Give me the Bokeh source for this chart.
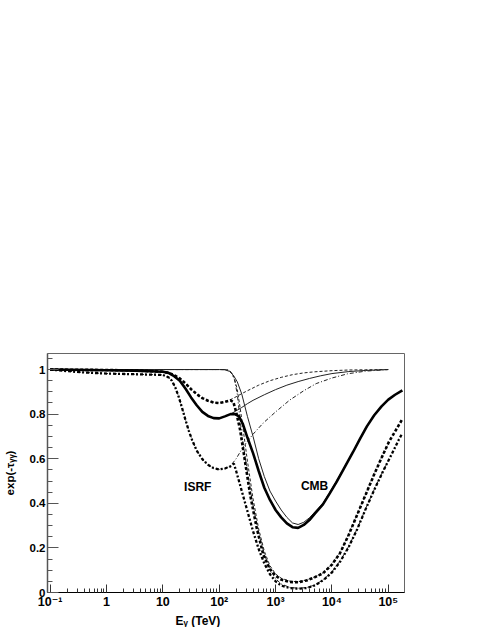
from bokeh.plotting import figure
from bokeh.models import Range1d, FixedTicker, Label, Title
from bokeh.embed import file_html
from bokeh.resources import INLINE

# ---------------- data (log10 of E in TeV, and exp(-tau)) ----------------
solid_total_lx = [-1.0, 0.0, 0.5, 1.0, 1.1, 1.2, 1.3, 1.4, 1.5, 1.6, 1.7, 1.8, 1.9, 2.0, 2.1, 2.2, 2.28,
                  2.35, 2.42, 2.5, 2.6, 2.7, 2.8, 2.9, 3.0, 3.1, 3.2, 3.3, 3.4, 3.5, 3.6, 3.7, 3.84, 3.95,
                  4.08, 4.2, 4.37, 4.5, 4.62, 4.75, 4.88, 5.0, 5.12, 5.25]
solid_total_y = [1.0, 0.997, 0.995, 0.99, 0.985, 0.97, 0.95, 0.915, 0.875, 0.84, 0.81, 0.792, 0.782, 0.781,
                 0.79, 0.80, 0.80, 0.79, 0.755, 0.695, 0.625, 0.545, 0.47, 0.415, 0.37, 0.337, 0.31, 0.293,
                 0.29, 0.303, 0.325, 0.355, 0.395, 0.44, 0.495, 0.55, 0.628, 0.69, 0.745, 0.795, 0.835,
                 0.865, 0.887, 0.907]

solid_isrf_lx = [-1.0, 0.0, 0.5, 1.0, 1.1, 1.2, 1.3, 1.4, 1.5, 1.6, 1.7, 1.8, 1.9, 2.0, 2.1, 2.2, 2.3,
                 2.4, 2.5, 2.6, 2.8, 3.0, 3.2, 3.4, 3.6, 3.8, 4.0, 4.3, 4.6, 5.0]
solid_isrf_y = [1.0, 0.997, 0.995, 0.99, 0.985, 0.97, 0.95, 0.915, 0.875, 0.84, 0.81, 0.792, 0.782, 0.781,
                0.79, 0.80, 0.815, 0.83, 0.847, 0.862, 0.887, 0.91, 0.93, 0.946, 0.96, 0.972, 0.982, 0.991,
                0.996, 1.0]

solid_cmb_lx = [-1.0, 2.0, 2.1, 2.18, 2.25, 2.32, 2.4, 2.5, 2.6, 2.7, 2.8, 2.9, 3.0, 3.1, 3.2, 3.3, 3.4,
                3.5, 3.6, 3.7, 3.84, 3.95, 4.08, 4.2, 4.37, 4.5, 4.62, 4.75, 4.88, 5.0]
solid_cmb_y = [1.0, 1.0, 0.999, 0.992, 0.975, 0.945, 0.89, 0.79, 0.70, 0.60, 0.52, 0.455, 0.41, 0.37,
               0.337, 0.312, 0.305, 0.315, 0.335, 0.362, 0.40, 0.445, 0.50, 0.553, 0.63, 0.692, 0.747,
               0.797, 0.837, 0.867]

dashed_isrf_lx = [-1.0, 0.0, 0.5, 1.0, 1.1, 1.2, 1.3, 1.4, 1.5, 1.6, 1.7, 1.8, 1.9, 2.0, 2.1, 2.2, 2.3,
                  2.4, 2.5, 2.7, 2.9, 3.1, 3.3, 3.5, 3.7, 4.0, 4.3, 4.6, 5.0]
dashed_isrf_y = [1.0, 0.998, 0.996, 0.99, 0.985, 0.975, 0.96, 0.938, 0.912, 0.89, 0.872, 0.86, 0.852,
                 0.85, 0.855, 0.865, 0.878, 0.892, 0.905, 0.93, 0.95, 0.965, 0.977, 0.985, 0.99, 0.995,
                 0.998, 0.999, 1.0]

dashed_cmb_lx = [-1.0, 2.1, 2.17, 2.22, 2.27, 2.32, 2.37, 2.42, 2.5, 2.6, 2.7, 2.8, 2.9, 3.0, 3.1, 3.25,
                 3.4, 3.55, 3.7, 3.84, 4.0, 4.14, 4.3, 4.45, 4.6, 4.75, 4.9, 5.0]
dashed_cmb_y = [1.0, 1.0, 0.997, 0.985, 0.96, 0.91, 0.83, 0.74, 0.59, 0.42, 0.285, 0.185, 0.12, 0.083,
                0.064, 0.051, 0.048, 0.056, 0.071, 0.088, 0.127, 0.177, 0.262, 0.352, 0.442, 0.532, 0.617,
                0.665]

dashed_total_lx = [-1.0, 0.0, 0.5, 1.0, 1.1, 1.2, 1.3, 1.4, 1.5, 1.6, 1.7, 1.8, 1.9, 2.0, 2.1, 2.2, 2.25,
                   2.3, 2.37, 2.46, 2.55, 2.665, 2.78, 2.9, 3.0, 3.1, 3.25, 3.4, 3.55, 3.7, 3.84, 4.0, 4.14,
                   4.3, 4.45, 4.6, 4.75, 4.9, 5.01, 5.15, 5.25]
dashed_total_y = [1.0, 0.998, 0.996, 0.99, 0.985, 0.975, 0.96, 0.938, 0.912, 0.89, 0.872, 0.86, 0.852,
                  0.85, 0.855, 0.862, 0.855, 0.81, 0.73, 0.584, 0.436, 0.289, 0.171, 0.105, 0.075, 0.058,
                  0.047, 0.046, 0.054, 0.069, 0.086, 0.125, 0.175, 0.26, 0.35, 0.44, 0.53, 0.615, 0.675,
                  0.735, 0.778]

dashdot_isrf_lx = [-1.0, -0.7, -0.4, 0.0, 0.5, 1.0, 1.1, 1.16, 1.22, 1.28, 1.34, 1.4, 1.46, 1.52, 1.6,
                   1.7, 1.8, 1.9, 2.0, 2.1, 2.2, 2.3, 2.43, 2.6, 2.78, 3.0, 3.25, 3.5, 3.72, 4.0, 4.28,
                   4.6, 5.0]
dashdot_isrf_y = [1.0, 0.993, 0.987, 0.982, 0.979, 0.976, 0.965, 0.95, 0.92, 0.878, 0.828, 0.775, 0.725,
                  0.683, 0.637, 0.598, 0.573, 0.558, 0.552, 0.556, 0.568, 0.60, 0.655, 0.71, 0.76, 0.81,
                  0.863, 0.905, 0.937, 0.962, 0.981, 0.993, 1.0]

dashdot_cmb_lx = [-1.0, 2.1, 2.17, 2.22, 2.27, 2.32, 2.4, 2.5, 2.6, 2.7, 2.8, 2.9, 3.0, 3.1, 3.25, 3.4,
                  3.55, 3.7, 3.85, 4.0, 4.15, 4.3, 4.45, 4.6, 4.75, 4.9, 5.0]
dashdot_cmb_y = [1.0, 1.0, 0.997, 0.985, 0.955, 0.89, 0.71, 0.54, 0.39, 0.265, 0.172, 0.103, 0.062,
                 0.038, 0.023, 0.019, 0.022, 0.034, 0.058, 0.093, 0.143, 0.208, 0.287, 0.377, 0.462,
                 0.542, 0.59]

dashdot_total_lx = [-1.0, -0.7, -0.4, 0.0, 0.5, 1.0, 1.1, 1.16, 1.22, 1.28, 1.34, 1.4, 1.46, 1.52, 1.6,
                    1.7, 1.8, 1.9, 2.0, 2.1, 2.2, 2.26, 2.3, 2.4, 2.5, 2.6, 2.7, 2.8, 2.9, 3.0, 3.1, 3.25,
                    3.4, 3.55, 3.7, 3.85, 4.0, 4.15, 4.3, 4.45, 4.6, 4.75, 4.9, 5.05, 5.19, 5.25]
dashdot_total_y = [1.0, 0.993, 0.987, 0.982, 0.979, 0.976, 0.965, 0.95, 0.92, 0.878, 0.828, 0.775,
                   0.725, 0.683, 0.637, 0.598, 0.573, 0.558, 0.552, 0.556, 0.566, 0.578, 0.545, 0.455,
                   0.365, 0.275, 0.195, 0.13, 0.082, 0.05, 0.031, 0.02, 0.017, 0.02, 0.032, 0.056, 0.09,
                   0.14, 0.205, 0.285, 0.375, 0.46, 0.54, 0.615, 0.687, 0.715]

x_ticks = [0.1, 1, 10, 100, 1000, 10000, 100000]
x_tick_labels = ["10\u207b\u00b9", "1", "10", "10\u00b2", "10\u00b3", "10\u2074", "10\u2075"]
y_ticks = [0, 0.2, 0.4, 0.6, 0.8, 1.0]
y_tick_labels = ["0", "0.2", "0.4", "0.6", "0.8", "1"]

x_title = "E\u1d67 (TeV)"
y_title = "exp(-\u03c4\u1d67\u1d67)"

label_texts = ["ISRF", "CMB"]
label_x = [41.5, 4920.0]
label_y = [0.474, 0.478]

FONT = "Liberation Sans, DejaVu Sans"

# ---------------- figure ----------------
p = figure(width=485, height=627, x_axis_type="log",
           x_range=Range1d(10 ** -1.0476, 10 ** 5.2876), y_range=Range1d(0, 1.072),
           output_backend="svg", toolbar_location=None, title=None,
           min_border_left=45, min_border_right=81, min_border_top=353, min_border_bottom=31)
p.background_fill_color = "white"
p.border_fill_color = "white"
p.outline_line_color = "#666666"
p.outline_line_width = 1
p.xgrid.grid_line_color = None
p.ygrid.grid_line_color = None


def tox(lx):
    return [10 ** v for v in lx]


styles = [
    # (lx, y, width, dash, color)
    (solid_isrf_lx, solid_isrf_y, 1.0, "solid", "#222222"),
    (solid_cmb_lx, solid_cmb_y, 1.0, "solid", "#222222"),
    (dashed_isrf_lx, dashed_isrf_y, 1.0, "3 2", "#222222"),
    (dashed_cmb_lx, dashed_cmb_y, 1.0, "3 2", "#222222"),
    (dashdot_isrf_lx, dashdot_isrf_y, 1.0, "4 2 1 2", "#222222"),
    (dashdot_cmb_lx, dashdot_cmb_y, 1.0, "4 2 1 2", "#222222"),
    (dashdot_total_lx, dashdot_total_y, 2.3, "3 2 2 2", "black"),
    (dashed_total_lx, dashed_total_y, 2.6, "3 2", "black"),
    (solid_total_lx, solid_total_y, 2.6, "solid", "black"),
]
for lx, yy, w, dash, col in styles:
    p.line(x=tox(lx), y=yy, line_width=w, line_dash=dash, line_color=col)

# ---------------- axes ----------------
minor_x = [m * 10 ** d for d in range(-1, 6) for m in range(2, 10)]
xa = p.xaxis[0]
xa.ticker = FixedTicker(ticks=x_ticks, minor_ticks=minor_x)
xa.major_label_overrides = {t: s for t, s in zip(x_ticks, x_tick_labels)}
xa.major_tick_in = 8
xa.major_tick_out = 0
xa.minor_tick_in = 4
xa.minor_tick_out = 0
xa.axis_line_color = "black"
xa.major_tick_line_color = "#333333"
xa.minor_tick_line_color = "#333333"
xa.major_label_standoff = 2
xa.major_label_text_font = FONT
xa.major_label_text_font_style = "bold"
xa.major_label_text_font_size = "12.5px"
xa.major_label_text_color = "black"

# x-axis title, placed like the reference (left part of the axis)
p.add_layout(Title(text=x_title, align="left", offset=128, standoff=0,
                   text_font=FONT, text_font_style="bold", text_font_size="12px",
                   text_color="black"), "below")

minor_y = [round(0.05 * i, 2) for i in range(0, 22)]
ya = p.yaxis[0]
ya.ticker = FixedTicker(ticks=y_ticks, minor_ticks=minor_y)
ya.major_label_overrides = {v: s for v, s in zip(y_ticks, y_tick_labels)}
ya.major_tick_in = 11
ya.major_tick_out = 0
ya.minor_tick_in = 5
ya.minor_tick_out = 0
ya.axis_line_color = "#555555"
ya.axis_line_width = 1.5
ya.major_tick_line_color = "#555555"
ya.minor_tick_line_color = "#555555"
ya.major_label_standoff = 2
ya.major_label_text_font = FONT
ya.major_label_text_font_style = "bold"
ya.major_label_text_font_size = "11.5px"
ya.major_label_text_color = "black"
ya.axis_label = y_title
ya.axis_label_standoff = 11
ya.axis_label_text_font = FONT
ya.axis_label_text_font_style = "bold"
ya.axis_label_text_font_size = "11.5px"
ya.axis_label_text_color = "black"

# in-plot labels
for t, lx, ly in zip(label_texts, label_x, label_y):
    p.add_layout(Label(x=lx, y=ly, text=t, text_align="center", text_baseline="alphabetic",
                       text_font=FONT, text_font_style="bold", text_font_size="12px",
                       text_color="black"))

open("out.html", "w").write(file_html(p, INLINE))
